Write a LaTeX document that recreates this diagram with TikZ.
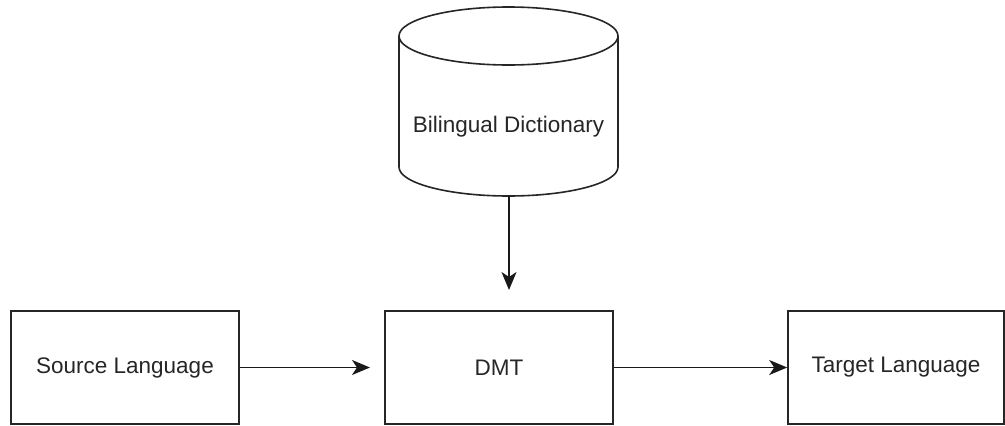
\documentclass[tikz,border=0pt]{standalone}
\usepackage{fontspec}
\setmainfont{Liberation Sans}
\usetikzlibrary{arrows.meta}
\begin{document}
\begin{tikzpicture}[x=1pt,y=-1pt,
  line width=1.6pt,
  every node/.style={font=\fontsize{22.5}{27}\selectfont, text=black!85},
  boxnode/.style={draw=black!85, rectangle, minimum width=228pt, minimum height=113pt, inner sep=0pt},
  conn/.style={draw=black!90, -{Stealth[length=18pt,width=15pt,inset=5pt]}}
]
\useasboundingbox (0,0) rectangle (1005,426);
% cylinder
\draw[draw=black!85, fill=white] (399,36) -- (399,167) arc[start angle=180, end angle=0, x radius=109.5, y radius=29] -- (618,36);
\draw[draw=black!85] (508.5,36) ellipse[x radius=109.5, y radius=29];
\node (dict) at (508.5,127) {Bilingual Dictionary};
\coordinate (dictbot) at (509,196);
% boxes
\node[boxnode] (src) at (125,367.5) {Source Language};
\node[boxnode] (dmt) at (499,367.5) {DMT};
\node[boxnode, minimum width=216pt] (tgt) at (896,367.5) {Target Language};
\coordinate (dmttop) at (509,290);
\coordinate (dmtin) at (370,367.5);
% connectors
\draw[conn] (dictbot) -- (dmttop);
\draw[conn] (src.east) -- (dmtin);
\draw[conn] (dmt.east) -- (tgt.west);
\end{tikzpicture}
\end{document}
